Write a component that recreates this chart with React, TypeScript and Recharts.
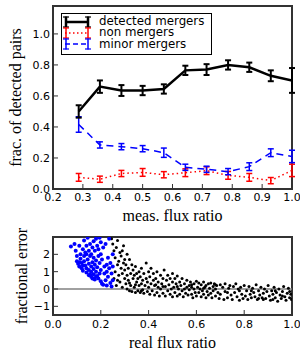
import React from 'react';
import {
  LineChart, Line, ErrorBar, XAxis, YAxis, ReferenceArea,
  ScatterChart, Scatter, ReferenceLine
} from 'recharts';

// top panel: binned fractions vs measured flux ratio
const measFlux = [0.286, 0.357, 0.429, 0.5, 0.571, 0.643, 0.714, 0.786, 0.857, 0.929, 1.0];
const detected = [0.5, 0.66, 0.635, 0.635, 0.645, 0.765, 0.77, 0.8, 0.785, 0.73, 0.7];
const detectedErr = [0.04, 0.04, 0.035, 0.03, 0.03, 0.03, 0.035, 0.03, 0.03, 0.035, 0.08];
const nonMergers = [0.075, 0.063, 0.1, 0.107, 0.092, 0.105, 0.118, 0.088, 0.075, 0.054, 0.12];
const nonErr = [0.025, 0.02, 0.02, 0.025, 0.02, 0.025, 0.025, 0.025, 0.025, 0.02, 0.04];
const minorMergers = [0.416, 0.284, 0.273, 0.26, 0.234, 0.14, 0.127, 0.112, 0.144, 0.234, 0.21];
const minorErr = [0.05, 0.02, 0.02, 0.02, 0.03, 0.02, 0.02, 0.02, 0.025, 0.025, 0.04];

const topXTicks = [0.2, 0.3, 0.4, 0.5, 0.6, 0.7, 0.8, 0.9, 1.0];
const topYTicks = [0, 0.2, 0.4, 0.6, 0.8, 1.0];

// bottom panel: fractional error vs real flux ratio
const minorPts: [number, number][] = [
  [0.075, 2.45], [0.09, 2.6], [0.095, 2.2], [0.1, 1.9], [0.1, 1.6], [0.105, 1.45], [0.11, 2.5], [0.11, 1.3],
  [0.115, 1.75], [0.115, 2.0], [0.12, 1.5], [0.12, 1.2], [0.125, 2.3], [0.125, 1.05], [0.13, 1.9], [0.13, 1.6],
  [0.13, 2.8], [0.135, 1.35], [0.135, 2.1], [0.14, 0.95], [0.14, 1.2], [0.14, 2.5], [0.145, 1.7], [0.145, 2.95],
  [0.15, 0.8], [0.15, 1.1], [0.15, 1.45], [0.15, 2.2], [0.155, 1.9], [0.155, 2.6], [0.16, 0.7], [0.16, 1.0],
  [0.16, 1.3], [0.16, 2.0], [0.165, 0.6], [0.165, 1.55], [0.165, 2.4], [0.17, 0.85], [0.17, 1.15], [0.17, 1.8],
  [0.17, 2.75], [0.175, 0.55], [0.175, 1.4], [0.175, 2.2], [0.18, 0.7], [0.18, 1.0], [0.18, 1.65], [0.18, 2.9],
  [0.185, 1.25], [0.185, 2.5], [0.19, 0.6], [0.19, 1.9], [0.19, 2.3], [0.195, 0.9], [0.195, 1.5], [0.2, 1.1],
  [0.2, 2.0], [0.2, 2.7], [0.205, 0.3], [0.205, 1.7], [0.21, 0.25], [0.21, 2.4], [0.215, 0.9], [0.215, 1.3],
  [0.22, 0.5], [0.22, 2.6], [0.225, 0.2], [0.225, 1.0], [0.225, 1.4], [0.23, 0.7], [0.23, 1.8], [0.235, 1.2],
  [0.235, 2.9], [0.24, 0.35], [0.24, 1.5], [0.245, 0.15], [0.245, 0.9], [0.25, 0.5], [0.25, 1.3], [0.25, 2.0],
  [0.195, 2.95], [0.155, 0.85], [0.125, 1.35], [0.14, 2.0], [0.185, 0.75], [0.2, 0.45], [0.11, 1.55], [0.17, 0.6],
];

const majorPts: [number, number][] = [
  [0.245, 2.9], [0.25, 2.6], [0.255, 2.2], [0.255, 0.6], [0.26, 1.8], [0.26, 1.0], [0.265, 2.4], [0.265, 0.2],
  [0.27, 1.4], [0.27, 2.8], [0.275, 0.8], [0.275, 1.6], [0.28, 2.1], [0.28, 0.4], [0.285, 1.2], [0.285, 1.9],
  [0.29, 0.1], [0.29, 0.9], [0.295, 1.5], [0.295, 2.5], [0.3, 0.6], [0.3, 1.1], [0.3, 1.7],
  [0.305, 0.3], [0.305, 1.4], [0.31, 0.0], [0.31, 0.8], [0.31, 2.0], [0.315, 1.2], [0.315, 0.5], [0.32, -0.1],
  [0.32, 1.7], [0.325, 0.9], [0.325, 0.2], [0.33, 1.4], [0.33, -0.15], [0.335, 0.6], [0.335, 1.1], [0.34, 0.1],
  [0.34, 0.8], [0.345, -0.2], [0.345, 1.3], [0.35, 0.4], [0.35, 0.9], [0.355, -0.1], [0.355, 0.6], [0.36, 1.0],
  [0.36, 0.2], [0.365, -0.2], [0.365, 0.7], [0.37, 0.3], [0.37, 1.2], [0.375, -0.05], [0.375, 0.5], [0.38, 0.9],
  [0.38, -0.25], [0.385, 0.2], [0.39, 0.6], [0.39, 1.5], [0.395, -0.15], [0.395, 0.4], [0.4, 0.1], [0.4, 1.0],
  [0.405, -0.3], [0.405, 0.7], [0.41, 0.3], [0.41, 1.2], [0.415, -0.1], [0.42, 0.5], [0.42, 0.9], [0.425, -0.35],
  [0.425, 0.2], [0.43, 0.6], [0.435, -0.2], [0.435, 1.0], [0.44, 0.1], [0.44, 0.4], [0.445, -0.4], [0.45, 0.8],
  [0.45, 0.0], [0.455, 0.3], [0.46, -0.25], [0.46, 0.6], [0.465, 1.1], [0.47, 0.15], [0.47, -0.4], [0.475, 0.5],
  [0.48, -0.1], [0.48, 0.8], [0.485, 0.25], [0.49, -0.3], [0.49, 0.6], [0.495, 0.0], [0.5, 0.4], [0.5, -0.45],
  [0.5, 0.9], [0.505, 0.1], [0.51, -0.2], [0.51, 0.6], [0.515, 0.3], [0.52, -0.4], [0.52, 0.75], [0.525, 0.0],
  [0.53, 0.4], [0.53, -0.3], [0.535, 0.2], [0.54, -0.1], [0.54, 0.6], [0.545, -0.45], [0.55, 0.3], [0.55, 0.0],
  [0.555, -0.25], [0.56, 0.5], [0.56, 0.1], [0.565, -0.35], [0.57, 0.2], [0.57, -0.05], [0.575, 0.4], [0.58, -0.3],
  [0.58, 0.1], [0.585, -0.5], [0.59, 0.3], [0.59, 0.0], [0.595, -0.2], [0.6, 0.45], [0.6, -0.4], [0.605, 0.1],
  [0.61, -0.2], [0.61, 0.35], [0.615, 0.0], [0.62, -0.45], [0.62, 0.25], [0.625, -0.1], [0.63, 0.4], [0.63, -0.3],
  [0.635, 0.1], [0.64, -0.5], [0.64, 0.2], [0.645, -0.15], [0.65, 0.3], [0.65, -0.35], [0.655, 0.05], [0.66, -0.25],
  [0.66, 0.35], [0.665, -0.5], [0.67, 0.15], [0.67, -0.1], [0.675, 0.3], [0.68, -0.4], [0.68, 0.0], [0.685, 0.2],
  [0.69, -0.2], [0.695, -0.55], [0.7, 0.25], [0.7, -0.3], [0.71, 0.1], [0.715, -0.6], [0.72, 0.3], [0.72, -0.15],
  [0.73, -0.5], [0.735, 0.05], [0.74, 0.2], [0.745, -0.35], [0.75, -0.6], [0.755, 0.15], [0.76, -0.2], [0.765, 0.3],
  [0.77, -0.45], [0.775, 0.0], [0.78, -0.65], [0.785, 0.1], [0.79, -0.3], [0.795, -0.55], [0.8, 0.2], [0.805, -0.4],
  [0.81, -0.1], [0.815, -0.6], [0.82, 0.15], [0.825, -0.3], [0.83, -0.5], [0.835, 0.05], [0.84, -0.2], [0.845, -0.45],
  [0.85, 0.25], [0.855, -0.6], [0.86, -0.1], [0.865, -0.35], [0.87, 0.1], [0.875, -0.5], [0.88, -0.25], [0.885, 0.0],
  [0.89, -0.55], [0.895, -0.15], [0.9, 0.2], [0.905, -0.4], [0.91, -0.65], [0.915, -0.1], [0.92, -0.3], [0.925, 0.1],
  [0.93, -0.5], [0.935, -0.2], [0.94, -0.7], [0.945, 0.0], [0.95, -0.35], [0.955, -0.55], [0.96, -0.15], [0.965, 0.15],
  [0.97, -0.45], [0.975, -0.65], [0.98, -0.25], [0.985, 0.05], [0.99, -0.5], [0.995, -0.3], [0.998, -0.6],
  [0.27, 0.5], [0.29, 2.2], [0.32, 0.35], [0.345, 0.25], [0.37, -0.1], [0.43, 0.25], [0.46, 0.15], [0.52, 0.15],
  [0.58, 0.25], [0.63, 0.05], [0.68, 0.25], [0.73, -0.2], [0.78, -0.1], [0.83, -0.1], [0.88, -0.6], [0.93, -0.1],
  [0.96, -0.4], [0.99, -0.15], [0.92, -0.6], [0.86, -0.55],
];

const botXTicks = [0, 0.2, 0.4, 0.6, 0.8, 1.0];
const botYTicks = [-1, 0, 1, 2];

const topData = measFlux.map((x, i) => ({
  x,
  det: detected[i], detErr: detectedErr[i],
  non: nonMergers[i], nonErr: nonErr[i],
  minor: minorMergers[i], minorErr: minorErr[i],
}));
const minorData = minorPts.map(([x, y]) => ({ x, y }));
const majorData = majorPts.map(([x, y]) => ({ x, y }));

const FRAME = '#333';
const tickFont = { fontFamily: 'DejaVu Sans', fontSize: 11, fill: '#000' };
const labelFont = { fontFamily: 'Liberation Serif', fontSize: 16, fill: '#000' };
const blank = () => '';
const fmtMinus = (v: number) => (v < 0 ? '\u2212' + Math.abs(v) : String(v));
const axisLine = { stroke: FRAME, strokeWidth: 2 };
const tickLine = { stroke: FRAME, strokeWidth: 1 };

const yTitle = (text: string, dx: number) => (props: any) => {
  const vb = props.viewBox;
  const cx = vb.x + dx;
  const cy = vb.y + vb.height / 2;
  return (
    <text x={cx} y={cy} transform={`rotate(-90 ${cx} ${cy})`} textAnchor="middle"
      dominantBaseline="central" {...labelFont}>{text}</text>
  );
};
const xTitle = (text: string, dy: number) => (props: any) => {
  const vb = props.viewBox;
  return (
    <text x={vb.x + vb.width / 2} y={vb.y + dy} textAnchor="middle"
      dominantBaseline="central" {...labelFont}>{text}</text>
  );
};

const legendItems = [
  { name: 'detected mergers', color: '#000', width: 2.5, dash: undefined },
  { name: 'non mergers', color: '#ff0000', width: 1.5, dash: '1.5 2.5' },
  { name: 'minor mergers', color: '#0000ff', width: 1.5, dash: '5 3' },
];

const LegendBox = () => (
  <div style={{
    position: 'absolute', left: 61, top: 13, width: 151, height: 42,
    border: '1px solid #000', background: '#fff', padding: '2px 0 0 0',
    fontFamily: 'DejaVu Sans', fontSize: 11.8, lineHeight: '11.3px', boxSizing: 'border-box',
  }}>
    {legendItems.map((it) => (
      <div key={it.name} style={{ display: 'flex', alignItems: 'center', height: 11.3 }}>
        <svg width={30} height={12} style={{ marginLeft: 1, flex: 'none' }}>
          <line x1={2} y1={6} x2={26} y2={6} stroke={it.color} strokeWidth={it.width} strokeDasharray={it.dash} />
          {[3, 25].map((bx) => (
            <g key={bx} stroke={it.color} strokeWidth={it.width}>
              <line x1={bx} y1={0.5} x2={bx} y2={11.5} />
              <line x1={bx - 3} y1={1} x2={bx + 3} y2={1} strokeWidth={1.2} />
              <line x1={bx - 3} y1={11} x2={bx + 3} y2={11} strokeWidth={1.2} />
            </g>
          ))}
        </svg>
        <span style={{ marginLeft: 6 }}>{it.name}</span>
      </div>
    ))}
  </div>
);

const dot = (r: number, fill: string) => (p: any) => <circle cx={p.cx} cy={p.cy} r={r} fill={fill} />;

export default function App() {
  return (
    <div style={{ position: 'absolute', left: 0, top: 0, width: 300, height: 350, background: '#fff' }}>
      <div style={{ position: 'absolute', left: 0, top: 0 }}>
        <LineChart width={300} height={228} data={topData} margin={{ top: 6, right: 8, bottom: 0, left: 0 }}>
          <XAxis dataKey="x" type="number" domain={[0.2, 1.0]} ticks={topXTicks} allowDataOverflow
            tickFormatter={(v: number) => v.toFixed(1)} tick={tickFont} height={39}
            tickSize={-5} tickMargin={9} axisLine={axisLine} tickLine={tickLine}
            label={{ content: xTitle('meas. flux ratio', 26) }} />
          <XAxis xAxisId="top" orientation="top" dataKey="x" type="number" domain={[0.2, 1.0]}
            ticks={topXTicks} tickFormatter={blank} height={0} tickSize={-5} axisLine={axisLine} tickLine={tickLine} />
          <YAxis type="number" domain={[0, 1.18]} ticks={topYTicks} allowDataOverflow
            tickFormatter={(v: number) => v.toFixed(1)} tick={tickFont} width={53}
            tickSize={-5} tickMargin={8} axisLine={axisLine} tickLine={tickLine}
            label={{ content: yTitle('frac. of detected pairs', 15) }} />
          <YAxis yAxisId="r" orientation="right" type="number" domain={[0, 1.18]} ticks={topYTicks}
            tickFormatter={blank} width={0} tickSize={-5} axisLine={axisLine} tickLine={tickLine} />
          <ReferenceArea x1={0.2} x2={1.0} y1={0} y2={1.18} fill="none" stroke={FRAME} strokeWidth={2} />
          <Line dataKey="non" stroke="#ff0000" strokeWidth={1.5} strokeDasharray="1.5 3"
            dot={false} isAnimationActive={false}>
            <ErrorBar dataKey="nonErr" direction="y" width={3} stroke="#ff0000" strokeWidth={1.5} isAnimationActive={false} />
          </Line>
          <Line dataKey="minor" stroke="#0000ff" strokeWidth={1.5} strokeDasharray="7 5"
            dot={false} isAnimationActive={false}>
            <ErrorBar dataKey="minorErr" direction="y" width={3} stroke="#0000ff" strokeWidth={1.5} isAnimationActive={false} />
          </Line>
          <Line dataKey="det" stroke="#000" strokeWidth={2.5}
            dot={false} isAnimationActive={false}>
            <ErrorBar dataKey="detErr" direction="y" width={3} stroke="#000" strokeWidth={2} isAnimationActive={false} />
          </Line>
        </LineChart>
        <LegendBox />
      </div>
      <div style={{ position: 'absolute', left: 0, top: 218 }}>
        <ScatterChart width={300} height={132} margin={{ top: 19, right: 8, bottom: 0, left: 0 }}>
          <XAxis dataKey="x" type="number" domain={[0, 1.0]} ticks={botXTicks} allowDataOverflow
            tickFormatter={(v: number) => v.toFixed(1)} tick={tickFont} height={35}
            tickSize={-5} tickMargin={10} axisLine={axisLine} tickLine={tickLine}
            label={{ content: xTitle('real flux ratio', 27) }} />
          <XAxis xAxisId="top" orientation="top" dataKey="x" type="number" domain={[0, 1.0]}
            ticks={botXTicks} tickFormatter={blank} height={0} tickSize={-5} axisLine={axisLine} tickLine={tickLine} />
          <YAxis dataKey="y" type="number" domain={[-1.5, 3]} ticks={botYTicks} allowDataOverflow
            tickFormatter={fmtMinus} tick={tickFont} width={53}
            tickSize={-5} tickMargin={8} axisLine={axisLine} tickLine={tickLine}
            label={{ content: yTitle('fractional error', 21) }} />
          <YAxis yAxisId="r" orientation="right" dataKey="y" type="number" domain={[-1.5, 3]} ticks={botYTicks}
            tickFormatter={blank} width={0} tickSize={-5} axisLine={axisLine} tickLine={tickLine} />
          <Scatter data={majorData} shape={dot(1.5, '#000')} isAnimationActive={false} />
          <Scatter data={minorData} shape={dot(2, '#0000ff')} isAnimationActive={false} />
          <ReferenceLine y={0} stroke="#808080" strokeWidth={1.5} />
          <ReferenceArea x1={0} x2={1.0} y1={-1.5} y2={3} fill="none" stroke={FRAME} strokeWidth={2} />
        </ScatterChart>
      </div>
    </div>
  );
}
